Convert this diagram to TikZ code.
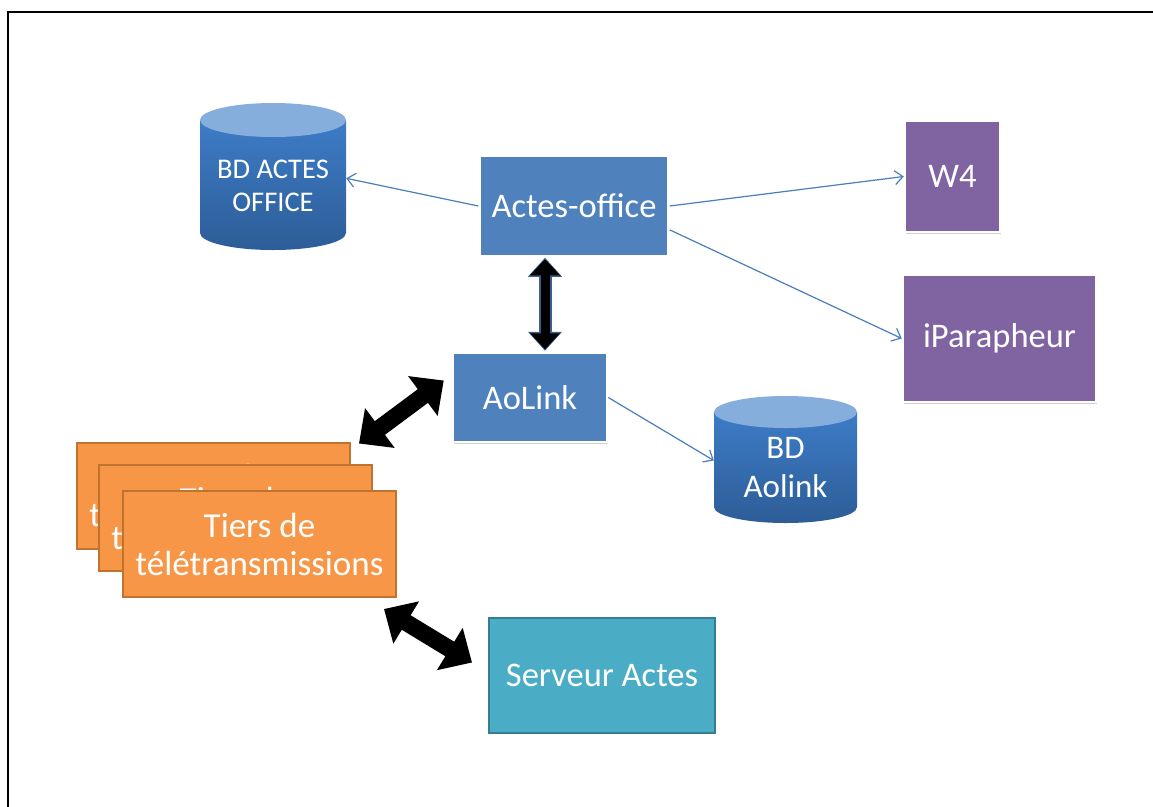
\documentclass[tikz,border=0pt]{standalone}
\usepackage{fontspec}
\setmainfont{Carlito}
\usetikzlibrary{arrows.meta,shadows,calc}
\definecolor{accblue}{HTML}{4F81BD}
\definecolor{accpurple}{HTML}{8064A2}
\definecolor{accorange}{HTML}{F79646}
\definecolor{orangeedge}{HTML}{C0722F}
\definecolor{accteal}{HTML}{4BACC6}
\definecolor{tealedge}{HTML}{357D91}
\definecolor{linkblue}{HTML}{4A7EBB}
\definecolor{cyltop}{HTML}{86AEDD}
\definecolor{cylhi}{HTML}{3D7CC7}
\definecolor{cyllo}{HTML}{2D5D97}
\definecolor{arrowedge}{HTML}{3A5F8C}
\begin{document}
\begin{tikzpicture}[x=1pt,y=-1pt,
  bigfont/.style={font=\fontsize{34.5}{38}\selectfont},
  whitebox/.style={rectangle, draw=white, line width=2.5pt, text=white, bigfont, align=center, inner sep=0pt,
    drop shadow={shadow xshift=1pt, shadow yshift=-1.5pt, opacity=0.18, fill=black}},
  bluebox/.style={whitebox, fill=accblue},
  purplebox/.style={whitebox, fill=accpurple},
  tiersbox/.style={rectangle, draw=orangeedge, line width=2pt, fill=accorange, text=white,
    font=\fontsize{35}{38}\selectfont, align=center,
    minimum width=273, minimum height=106, inner sep=0pt},
  serverbox/.style={rectangle, draw=tealedge, line width=2pt, fill=accteal, text=white, bigfont, align=center, inner sep=0pt},
  cyltext/.style={text=white, align=center, inner sep=0pt},
  thinarrow/.style={draw=linkblue, line width=1.2pt, -{Straight Barb[length=8pt,width=14pt]}},
  blockarrow/.style={draw=black, line width=17pt,
    {Triangle[length=26pt,width=48pt]}-{Triangle[length=26pt,width=48pt]}},
]
\useasboundingbox (0,0) rectangle (1153,806);
\fill[white] (0,0) rectangle (1153,806);
% frame (only top and left edges are visible)
\draw[line width=2.5pt] (8,810) -- (8,12) -- (1160,12);

% cylinder BD ACTES OFFICE
\shade[top color=cylhi, bottom color=cyllo] (200,120) -- (200,233)
  arc[start angle=180, end angle=0, x radius=73, y radius=17] -- (346,120) -- cycle;
\fill[cyltop] (273,120) ellipse[x radius=73, y radius=17];
\node[cyltext, font=\fontsize{28.5}{33}\selectfont, minimum width=146, minimum height=100] (bdao) at (273,186) {BD ACTES\\OFFICE};

% cylinder BD Aolink
\shade[top color=cylhi, bottom color=cyllo] (714,412) -- (714,507)
  arc[start angle=180, end angle=0, x radius=71.5, y radius=16] -- (857,412) -- cycle;
\fill[cyltop] (785.5,412) ellipse[x radius=71.5, y radius=16];
\node[cyltext, font=\fontsize{33}{39}\selectfont, minimum width=143, minimum height=90] (bdal) at (785.5,468) {BD\\Aolink};

% boxes
\node[bluebox, minimum width=189, minimum height=101] (actes) at (574,206) {Actes-office};
\node[bluebox, minimum width=154, minimum height=89] (ao) at (530,397.5) {AoLink};
\node[purplebox, minimum width=95, minimum height=111] (w4) at (952.5,176.5) {W4};
\node[purplebox, minimum width=193, minimum height=127] (ipara) at (999.5,338.5) {iParapheur};
\node[serverbox, minimum width=226, minimum height=115] (serv) at (602,675.5) {Serveur Actes};

% stacked tiers
\node[tiersbox] (tiers1) at (213.5,495.5) {Tiers de\\télétransmissions};
\node[tiersbox] (tiers2) at (235.5,518) {Tiers de\\télétransmissions};
\node[tiersbox] (tiers3) at (259.5,544) {Tiers de\\télétransmissions};

% thin connectors
\draw[thinarrow] (actes.west) -- (bdao.6);
\draw[thinarrow] (actes.east) -- (w4.west);
\draw[thinarrow] (actes.-14) -- (ipara.west);
\draw[thinarrow] (ao.east) -- (bdal.174);

% vertical double arrow
\coordinate (v1) at ($(actes.south)+(-29,0)$);
\coordinate (v2) at ($(ao.north)+(15,-1)$);
\draw[draw=arrowedge, line width=13pt,
  {Triangle[length=19pt,width=33pt]}-{Triangle[length=19pt,width=33pt]}] (v1) -- (v2);
\draw[draw=black, line width=9pt, shorten <=1.5pt, shorten >=1.5pt,
  {Triangle[length=16pt,width=29pt]}-{Triangle[length=16pt,width=29pt]}] (v1) -- (v2);

% block arrows
\coordinate (a1) at ($(tiers1.north east)+(8,2)$);
\coordinate (a2) at ($(ao.west)+(-8,-17)$);
\draw[blockarrow] (a1) -- (a2);
\coordinate (b1) at ($(tiers3.south east)+(-13,11)$);
\coordinate (b2) at ($(serv.west)+(-16,-13)$);
\draw[blockarrow] (b1) -- (b2);
\end{tikzpicture}
\end{document}
